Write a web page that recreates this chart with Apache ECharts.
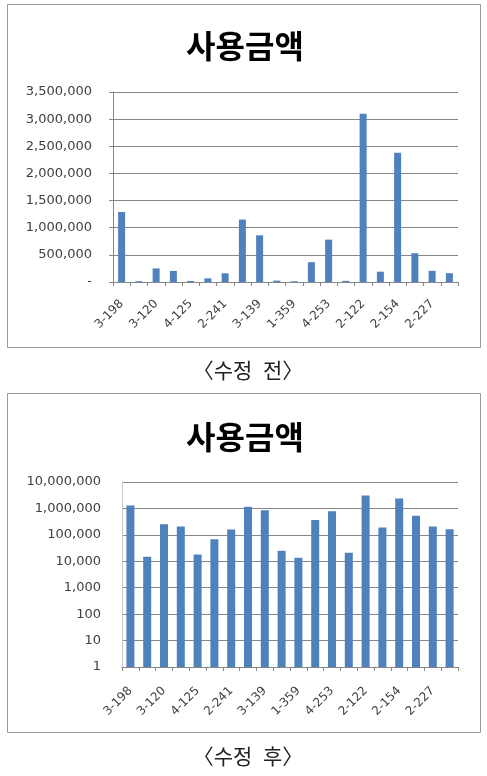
<!DOCTYPE html>
<html>
<head>
<meta charset="utf-8">
<script src="https://cdn.jsdelivr.net/npm/echarts@6/dist/echarts.min.js"></script>
<style>
html,body{margin:0;padding:0;background:#fff;}
#c{width:487px;height:776px;}
</style>
</head>
<body>
<div id="c"></div>
<script>
// Categories (only every other label is visible in the reference)
var categories = ['3-198','','3-120','','4-125','','2-241','','3-139','','1-359','','4-253','','2-122','','2-154','','2-227',''];
// 사용금액 values (same data in both charts)
var amounts = [1290000,15000,250000,205000,18000,68000,160000,1150000,860000,25000,13500,365000,780000,21000,3100000,190000,2380000,530000,205000,162000];
var chartTitle = '사용금액';
var captionBefore = '〈수정\u2002전〉';
var captionAfter = '〈수정\u2002후〉';
var linearMax = 3500000, linearInterval = 500000;
var logMin = 1, logMax = 10000000;

var gridColor = '#868686';
var labelColor = '#404040';
var barColor = '#4F81BD';
var numFont = 'DejaVu Sans';

function fmt(v){ return Number(v).toLocaleString('en-US'); }

function xAxisCfg(gridIndex, margin){
  return {
    type:'category', gridIndex:gridIndex, data:categories,
    axisLine:{lineStyle:{color:gridColor,width:1}},
    axisTick:{show:true,interval:0,length:4,lineStyle:{color:gridColor}},
    axisLabel:{interval:1,rotate:45,fontFamily:numFont,fontSize:12,color:labelColor,margin:margin}
  };
}

var chart = echarts.init(document.getElementById('c'), null, {renderer:'canvas'});
chart.setOption({
  backgroundColor:'#fff',
  animation:false,
  graphic:[
    {type:'rect',shape:{x:7.5,y:4.5,width:473,height:343},style:{fill:'none',stroke:'#9a9a9a',lineWidth:1}},
    {type:'rect',shape:{x:7.5,y:393.5,width:473,height:339},style:{fill:'none',stroke:'#9a9a9a',lineWidth:1}},
    {type:'text',x:245,y:46,style:{text:chartTitle,font:'bold 32px "Noto Sans CJK KR"',fill:'#000',textAlign:'center',textVerticalAlign:'middle'}},
    {type:'text',x:245,y:437,style:{text:chartTitle,font:'bold 32px "Noto Sans CJK KR"',fill:'#000',textAlign:'center',textVerticalAlign:'middle'}},
    {type:'text',x:248,y:370,style:{text:captionBefore,font:'21px "Noto Sans CJK KR"',fill:'#222',textAlign:'center',textVerticalAlign:'middle'}},
    {type:'text',x:248,y:756,style:{text:captionAfter,font:'21px "Noto Sans CJK KR"',fill:'#222',textAlign:'center',textVerticalAlign:'middle'}}
  ],
  grid:[
    {left:113,right:29,top:92,height:190,containLabel:false},
    {left:122,right:29,top:482,height:185,containLabel:false}
  ],
  xAxis:[xAxisCfg(0,20), xAxisCfg(1,22)],
  yAxis:[
    {type:'value',gridIndex:0,min:0,max:linearMax,interval:linearInterval,
     axisLine:{show:true,lineStyle:{color:gridColor}},
     axisTick:{show:true,length:4,lineStyle:{color:gridColor}},
     splitLine:{lineStyle:{color:gridColor,width:1}},
     axisLabel:{fontFamily:numFont,fontSize:13,color:labelColor,margin:21,
       formatter:function(v){return v===0?'-':fmt(v);}}},
    {type:'log',gridIndex:1,logBase:10,min:logMin,max:logMax,interval:1,
     axisLine:{show:true,lineStyle:{color:'#c8c8c8'}},
     axisTick:{show:false},
     splitLine:{lineStyle:{color:gridColor,width:1}},
     axisLabel:{fontFamily:numFont,fontSize:13,color:labelColor,margin:21,
       formatter:function(v){return fmt(Math.round(v));}}}
  ],
  series:[
    {type:'bar',xAxisIndex:0,yAxisIndex:0,data:amounts,barWidth:7,itemStyle:{color:barColor}},
    {type:'bar',xAxisIndex:1,yAxisIndex:1,data:amounts,barWidth:8,itemStyle:{color:barColor}}
  ]
});
</script>
</body>
</html>
